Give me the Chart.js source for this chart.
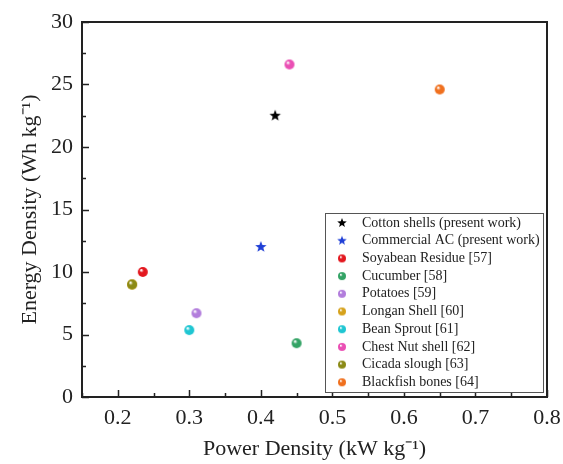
<!DOCTYPE html>
<html>
<head>
<meta charset="utf-8">
<script src="https://cdn.jsdelivr.net/npm/chart.js@4.4.0/dist/chart.umd.min.js"></script>
<style>
  html, body { margin: 0; padding: 0; background: #fff; }
  #wrap { width: 563px; height: 464px; }
</style>
</head>
<body>
<div id="wrap"><canvas id="scatterChart" width="563" height="464"></canvas></div>
<script>
// Data
const seriesNames = [
  'Cotton shells (present work)',
  'Commercial AC (present work)',
  'Soyabean Residue [57]',
  'Cucumber [58]',
  'Potatoes [59]',
  'Longan Shell [60]',
  'Bean Sprout [61]',
  'Chest Nut shell [62]',
  'Cicada slough [63]',
  'Blackfish bones [64]'
];
const powerDensity = [0.42, 0.40, 0.235, 0.45, 0.31, 0.22, 0.30, 0.44, 0.22, 0.65];
const energyDensity = [22.5, 12.0, 10.0, 4.3, 6.7, 9.0, 5.35, 26.6, 9.0, 24.6];
const seriesColors = ['#000000', '#1f3fd6', '#e3181f', '#33a365', '#b27ddc', '#d6a21c',
  '#1fc6d2', '#ea4fb4', '#8b8a16', '#f0701e'];
const seriesShapes = ['star', 'star', 'ball', 'ball', 'ball', 'ball', 'ball', 'ball', 'ball', 'ball'];
// Longan Shell sits under Cicada slough in the figure
const drawOrder = [0, 0, 0, 0, 0, 1, 0, 0, 0, 0];
const xTicks = [0.2, 0.3, 0.4, 0.5, 0.6, 0.7, 0.8];
const yTicks = [0, 5, 10, 15, 20, 25, 30];

const serif = "'Liberation Serif', 'Times New Roman', serif";

// Small marker images: shaded balls and filled stars
function makeBall(color, r) {
  const c = document.createElement('canvas');
  c.width = c.height = r * 2 + 2;
  const g = c.getContext('2d');
  const cx = r + 1;
  const grad = g.createRadialGradient(cx - r * 0.35, cx - r * 0.4, r * 0.1, cx, cx, r);
  grad.addColorStop(0, '#ffffff');
  grad.addColorStop(0.35, color);
  grad.addColorStop(1, color);
  g.fillStyle = grad;
  g.beginPath();
  g.arc(cx, cx, r, 0, Math.PI * 2);
  g.fill();
  return c;
}

function makeStar(color, r) {
  const c = document.createElement('canvas');
  c.width = c.height = r * 2 + 2;
  const g = c.getContext('2d');
  const cx = r + 1;
  g.fillStyle = color;
  g.beginPath();
  for (let i = 0; i < 10; i++) {
    const rad = i % 2 === 0 ? r : r * 0.42;
    const a = -Math.PI / 2 + i * Math.PI / 5;
    g.lineTo(cx + rad * Math.cos(a), cx + rad * Math.sin(a));
  }
  g.closePath();
  g.fill();
  return c;
}

const markers = seriesColors.map(function(col, i) {
  return seriesShapes[i] === 'star' ? makeStar(col, 6) : makeBall(col, 5);
});
const legendMarkers = seriesColors.map(function(col, i) {
  return seriesShapes[i] === 'star' ? makeStar(col, 5) : makeBall(col, 4);
});

const datasets = seriesNames.map(function(name, i) {
  return {
    label: name,
    data: [{ x: powerDensity[i], y: energyDensity[i] }],
    pointStyle: markers[i],
    backgroundColor: seriesColors[i],
    borderColor: seriesColors[i],
    order: drawOrder[i]
  };
});

// Frame, inward ticks and the boxed legend
const framePlugin = {
  id: 'frame',
  afterDraw(chart) {
    const ctx = chart.ctx;
    const a = chart.chartArea;
    const xs = chart.scales.x;
    const ys = chart.scales.y;
    ctx.save();
    ctx.strokeStyle = '#222';
    ctx.lineWidth = 2;
    ctx.strokeRect(a.left, a.top, a.right - a.left, a.bottom - a.top);

    ctx.lineWidth = 1.5;
    ctx.beginPath();
    for (let v = 0.15; v <= 0.8001; v += 0.05) {
      const px = Math.round(xs.getPixelForValue(v)) + 0.5;
      const major = xTicks.some(function(t) { return Math.abs(t - v) < 1e-6; });
      ctx.moveTo(px, a.bottom);
      ctx.lineTo(px, a.bottom - (major ? 7 : 4));
    }
    for (let v = 0; v <= 30; v += 2.5) {
      const py = Math.round(ys.getPixelForValue(v)) + 0.5;
      const major = v % 5 === 0;
      ctx.moveTo(a.left, py);
      ctx.lineTo(a.left + (major ? 7 : 4), py);
    }
    ctx.stroke();

    // legend box
    const bx = 325, by = 213, bw = 218, bh = 179;
    ctx.fillStyle = '#fff';
    ctx.fillRect(bx, by, bw, bh);
    ctx.strokeStyle = '#555';
    ctx.lineWidth = 1;
    ctx.strokeRect(bx + 0.5, by + 0.5, bw, bh);
    ctx.font = '14px ' + serif;
    ctx.fillStyle = '#222';
    ctx.textBaseline = 'middle';
    seriesNames.forEach(function(name, i) {
      const ry = by + 10 + i * 17.7;
      const m = legendMarkers[i];
      ctx.drawImage(m, 342 - m.width / 2, ry - m.height / 2);
      ctx.fillText(name, 362, ry);
    });
    ctx.restore();
  }
};

const chart = new Chart(document.getElementById('scatterChart').getContext('2d'), {
  type: 'scatter',
  data: { datasets: datasets },
  options: {
    responsive: false,
    animation: false,
    layout: { padding: { top: 22, right: 16, left: 0, bottom: 0 } },
    plugins: {
      legend: { display: false },
      tooltip: { enabled: false }
    },
    scales: {
      x: {
        type: 'linear',
        min: 0.15,
        max: 0.8,
        afterBuildTicks: function(scale) {
          scale.ticks = xTicks.map(function(v) { return { value: v }; });
        },
        afterFit: function(scale) {
          scale.height = 67;
          scale.paddingRight = 0;
          scale.paddingLeft = 0;
        },
        grid: { drawOnChartArea: false, drawTicks: false },
        border: { display: false },
        ticks: {
          padding: 8,
          color: '#222',
          font: { family: serif, size: 22 },
          maxRotation: 0,
          callback: function(v) { return v.toFixed(1); }
        },
        title: {
          display: true,
          text: 'Power Density (kW kg⁻¹)',
          color: '#222',
          font: { family: serif, size: 22 },
          padding: { top: 0, bottom: 2 }
        }
      },
      y: {
        type: 'linear',
        min: 0,
        max: 30,
        afterBuildTicks: function(scale) {
          scale.ticks = yTicks.map(function(v) { return { value: v }; });
        },
        afterFit: function(scale) {
          scale.width = 82;
          scale.paddingTop = 0;
          scale.paddingBottom = 0;
        },
        grid: { drawOnChartArea: false, drawTicks: false },
        border: { display: false },
        ticks: {
          padding: 9,
          color: '#222',
          font: { family: serif, size: 22 }
        },
        title: {
          display: true,
          text: 'Energy Density (Wh kg⁻¹)',
          color: '#222',
          font: { family: serif, size: 22 },
          padding: { top: 17, bottom: 0 }
        }
      }
    }
  },
  plugins: [framePlugin]
});
</script>
</body>
</html>
